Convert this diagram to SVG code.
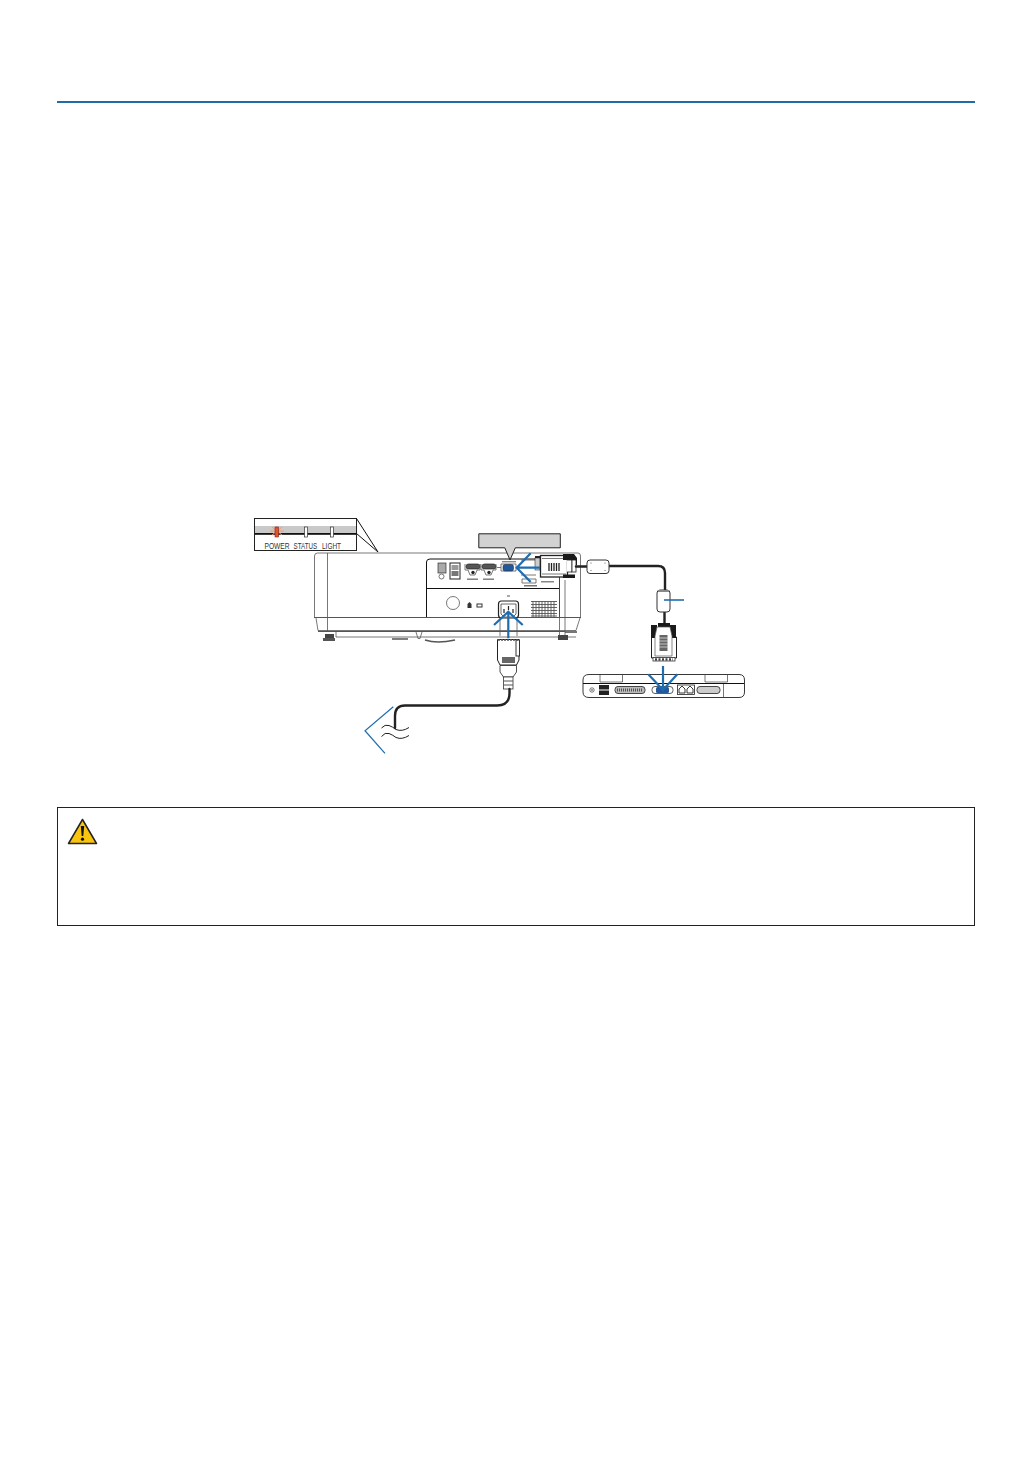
<svg xmlns="http://www.w3.org/2000/svg" width="1032" height="1457" viewBox="0 0 1032 1457">
<style>
.l{fill:none;stroke:#555;stroke-width:.8}
.k{fill:none;stroke:#111;stroke-width:1}
.w{fill:#fff;stroke:#222;stroke-width:1}
.b{fill:none;stroke:#1f6cb0;stroke-width:2}
.c{fill:none;stroke:#222;stroke-width:2.4;stroke-linecap:round;stroke-linejoin:round}
.t{font-family:"Liberation Sans",Arial,sans-serif;font-size:9.5px;fill:#333}
</style>
<rect width="1032" height="1457" fill="#fff"/>
<rect id="header-rule" x="57" y="101" width="918" height="2" fill="#1f6ca8"/>

<g id="indicator-inset">
<rect x="254.500" y="518.500" width="102" height="32" fill="#fff" stroke="#222"/>
<rect x="255" y="526" width="101" height="7" fill="#c9c9c9"/>
<rect x="255" y="533" width="101" height="1.800" fill="#111"/>
<path class="k" d="M356.500 518.500L378 552M356.500 533.500L378 552"/>
<path d="M270 531H284M277 526V536M272 527L282 535M282 527L272 535" stroke="#f29a70" stroke-width="1" fill="none"/>
<rect x="275" y="527" width="3.600" height="10" fill="#e0562a" stroke="#822" stroke-width=".6"/>
<rect x="304.500" y="527" width="3" height="10" fill="#fff" stroke="#333" stroke-width=".7"/>
<rect x="330.500" y="527" width="3" height="10" fill="#fff" stroke="#333" stroke-width=".7"/>
<text class="t" transform="translate(264.500 549) scale(.7 1)">POWER</text>
<text class="t" transform="translate(293.500 549) scale(.653 1)">STATUS</text>
<text class="t" transform="translate(322 549) scale(.68 1)">LIGHT</text>
</g>

<g id="projector">
<path class="l" d="M314.500 617V556Q314.500 553 317.500 553H578Q580.500 553 580.500 556V617"/>
<path class="l" d="M327.500 553V632"/>
<path d="M314 617.500H581" stroke="#555" stroke-width="1" fill="none"/>
<path class="l" d="M316 618L318 630.500H576L580 618"/>
<path d="M318 631.500H577" stroke="#555" stroke-width="1"/>
<path class="l" d="M336 632V637H576"/>
<path class="l" d="M416 632L418 638.500H420L422 632"/>
<rect x="325" y="634" width="9" height="6" fill="#444"/><rect x="323" y="638" width="12" height="3" fill="#555"/>
<rect x="558" y="635" width="10" height="5" fill="#444"/><rect x="565" y="631" width="12" height="2" fill="#777"/>
<path d="M392 639H408M425 640Q437 644 455 640" stroke="#555" stroke-width="1.400" fill="none"/>
<path class="k" d="M426.500 617V562Q426.500 559 430 559H559.500V617M426.500 588.500H559.500"/>
<path class="l" d="M559.500 559V635M565 580V635"/>
<rect x="438" y="563" width="8" height="10" fill="#aaa" stroke="#333" stroke-width=".7"/>
<circle cx="441.500" cy="576.500" r="2.500" class="l"/>
<rect x="450" y="563" width="10" height="16" fill="#fff" stroke="#222"/>
<rect x="451.500" y="565" width="7" height="5" fill="#999"/>
<rect x="451.500" y="571" width="7" height="5" fill="#777"/>
<rect x="466" y="564" width="14" height="5" rx="2.500" fill="#555" stroke="#222" stroke-width=".7"/>
<rect x="482" y="564" width="14" height="5" rx="2.500" fill="#555" stroke="#222" stroke-width=".7"/>
<circle cx="473" cy="572.500" r="1.700" fill="#222"/><circle cx="489" cy="572.500" r="1.700" fill="#222"/>
<path class="l" d="M465 564V570H468L470 575H475L477 570H480V564M481 564V570H484L486 575H491L493 570H496V564"/>
<rect x="467" y="578.500" width="11" height="1.400" fill="#777"/><rect x="483" y="578.500" width="11" height="1.400" fill="#777"/>
<circle cx="453" cy="603" r="6.500" class="l"/>
<path d="M467.500 608V604L469.500 602L471.500 604V608Z" fill="#333"/>
<rect x="477" y="604" width="5" height="3" fill="none" stroke="#333"/>
<path d="M531 601.500H557M531 604.500H557M531 607.500H557M531 610.500H557M531 613.500H557M531 616H557M533 601V617M536 601V617M539 601V617M542 601V617M545 601V617M548 601V617M551 601V617M554 601V617" stroke="#555" stroke-width=".9" fill="none"/>
<path class="l" d="M497 567.500H501M501 564H516V571H501Z"/>
<rect x="503" y="564.500" width="10.500" height="6.500" rx="2" fill="#24589c" stroke="#123" stroke-width=".5"/>
<rect x="502" y="561" width="14" height="1.400" fill="#888"/>
<path class="l" d="M521 560H536M521 575H536"/>
<path class="l" d="M522 579H536V583H522Z"/>
<rect x="524" y="585" width="13" height="1.500" fill="#777"/>
<rect x="541" y="581" width="13" height="1.500" fill="#888"/>
</g>

<g id="vga-callout">
<path d="M478.800 533.800H560.300V547.800H515.300L510 560L504.800 547.800H478.800Z" fill="#d2d2d2" stroke="#222" stroke-width="1"/>
</g>

<g id="vga-connector">
<rect x="535" y="558" width="5" height="12" fill="#ccc" stroke="#333" stroke-width=".6"/>
<rect x="535" y="556" width="5" height="2" fill="#222"/>
<rect x="540.500" y="555.500" width="27" height="21.500" fill="#fff" stroke="#222" stroke-width="1.300"/>
<path d="M542 558.500H566M542 574H566" stroke="#555" stroke-width=".8"/>
<path d="M549 563V571M551.500 563V571M554 563V571M556.500 563V571M559 563V571" stroke="#222" stroke-width="1.300"/>
<path d="M563 554H574L577 558V565H572V560H563Z" fill="#1a1a1a"/>
<rect x="563" y="574.500" width="12" height="3.500" fill="#1a1a1a"/>
<path d="M567 560H572V572H567" fill="#fff" stroke="#222" stroke-width=".8"/>
<rect x="572" y="560" width="4" height="12" fill="#fff" stroke="#222" stroke-width=".8"/>
<path class="c" d="M576 566.500H588"/>
</g>

<g id="vga-cable">
<path class="c" d="M609 566H658Q665 566 665 573V591"/>
<path class="c" d="M664.500 611V626"/>
<rect x="587" y="560" width="22" height="13.500" rx="3" fill="#fff" stroke="#333"/>
<circle cx="591" cy="563" r=".5" fill="#333"/><circle cx="591" cy="570.500" r=".5" fill="#333"/><circle cx="605" cy="563" r=".5" fill="#333"/><circle cx="605" cy="570.500" r=".5" fill="#333"/>
<rect x="657" y="590" width="13" height="22" rx="3" fill="#fff" stroke="#333"/>
<rect x="658" y="590" width="11" height="2" fill="#888"/>
</g>

<g id="vga-plug">
<path class="w" d="M651.500 637H676.500V658H651.500Z"/>
<rect x="651" y="625" width="6" height="13" fill="#1a1a1a"/>
<rect x="670" y="625" width="6" height="13" fill="#1a1a1a"/>
<rect x="658" y="623" width="12" height="4" fill="#1a1a1a"/>
<path d="M657 627H670L672 636V656H655V636Z" fill="#fff" stroke="#555" stroke-width=".7"/>
<rect x="659.500" y="635" width="8" height="16" fill="#666"/>
<path d="M659 638H668M659 641H668M659 644H668M659 647H668" stroke="#ddd" stroke-width=".8"/>
<rect x="653" y="657.500" width="22" height="3.500" fill="#fff" stroke="#333" stroke-width=".8"/>
<path d="M655 659.500H673" stroke="#444" stroke-dasharray="2 1.500" stroke-width="2.500"/>
</g>

<g id="laptop">
<path class="w" d="M583 680Q583 674.500 589 674.500H739Q744.500 674.500 744.500 680V692Q744.500 697.500 739 697.500H589Q583 697.500 583 692Z" style="stroke-width:.9"/>
<path d="M583 683.500H744" stroke="#111" stroke-width="1.200"/>
<path class="l" d="M600 675V682H622.500V675M705 675V682H727.500V675M723.500 684V697"/>
<circle cx="592" cy="690" r="2.200" class="l"/><circle cx="592" cy="690" r=".8" fill="#333"/>
<rect x="599" y="685" width="10" height="4.500" fill="#222"/><rect x="599" y="690.500" width="10" height="4.500" fill="#222"/>
<rect x="615" y="686.500" width="30" height="7" rx="3" fill="#bbb" stroke="#333" stroke-width=".9"/>
<path d="M617 690H643" stroke="#555" stroke-dasharray="1 1" stroke-width="3"/>
<rect x="652" y="686.500" width="21" height="7" rx="3" fill="#fff" stroke="#333" stroke-width=".8"/>
<rect x="656" y="687" width="13" height="6" rx="1.500" fill="#24589c"/>
<rect x="677.500" y="685" width="17" height="9.500" fill="#fff" stroke="#222" stroke-width=".8"/>
<path d="M679 693V689L682 686L685 689V693ZM687 693V689L690 686L693 689V693Z" fill="#fff" stroke="#222" stroke-width=".9"/>
<rect x="697" y="686.500" width="23" height="7" rx="3" fill="#ccc" stroke="#333" stroke-width=".9"/>
</g>

<g id="power-inlet">
<rect x="498.500" y="601" width="20" height="17" rx="3" fill="#fff" stroke="#222" stroke-width="1.200"/>
<path d="M501 604H516V614L513 617H504L501 614Z" fill="#fff" stroke="#444" stroke-width=".8"/>
<path d="M504 609V613M508.500 606V610M513 609V613" stroke="#222" stroke-width="1.200"/>
<path d="M507 596H510" stroke="#555"/>
<path class="l" d="M500 618V636M517 618V636"/>
</g>

<g id="power-plug">
<path class="w" d="M497.500 639.500H519V660L516.500 665H500L497.500 660Z"/>
<rect x="516" y="640" width="3.500" height="16" fill="#fff" stroke="#222" stroke-width=".9"/>
<path d="M498 640H518" stroke="#555" stroke-width="1.500" stroke-dasharray="2 1"/>
<rect x="502" y="657" width="13" height="6" fill="#666"/>
<path class="w" d="M500 665.500H516.500V672L513 677H503.500L500 672Z" style="stroke-width:.8"/>
<rect x="503.500" y="677" width="9.500" height="12" fill="#fff" stroke="#333" stroke-width=".8"/>
<path d="M504 681H513M504 685H513" stroke="#555"/>
</g>

<g id="power-cord">
<path class="c" d="M509.500 689V693Q509.500 705.500 497 705.500H405Q395 705.500 395 716V728"/>
<path d="M381.500 728Q385 724 389 725.500Q393 727 396 729.500Q402 732 409 727.500M381.500 736.500Q385 732 389 733.500Q393 735 396 737.500Q402 740 409 735.500" fill="none" stroke="#222" stroke-width="1"/>
</g>

<g id="connectors">
<path class="b" style="stroke-width:2.200" d="M540 567.700H518M530.700 553.300L516.700 567.700L530.700 582"/>
<path class="b" style="stroke-width:2.200" d="M508.300 638.300V613M494 625L508.300 611.700L522.700 625"/>
<path class="b" style="stroke-width:2.200" d="M663 666V689M648.300 674.300L663 690L677.300 674.300"/>
<path class="b" style="stroke-width:1.600" d="M664 600H684"/>
<path class="b" style="stroke-width:1.200" d="M393.300 706.700L365 730.700L385 753.300"/>
</g>

<g id="caution-box">
<rect x="57.500" y="807.500" width="917" height="118" fill="#fff" stroke="#222" stroke-width="1"/>
<path d="M82.500 819.500L68.500 843.500H96.500Z" fill="#f9c40f" stroke="#222" stroke-width="1.500" stroke-linejoin="round"/>
<path d="M80.800 826H84.200L83.300 836H81.700Z" fill="#111"/>
<circle cx="82.500" cy="839.200" r="1.600" fill="#111"/>
</g>
</svg>
